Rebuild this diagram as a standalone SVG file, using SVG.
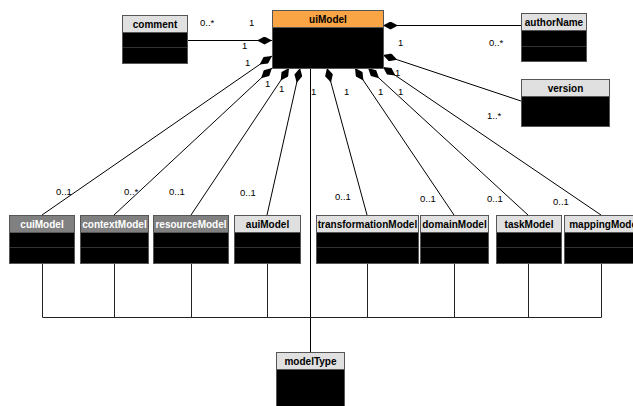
<svg xmlns="http://www.w3.org/2000/svg" width="633" height="406" viewBox="0 0 633 406">
<style>
.body{fill:#000;stroke:#555;stroke-width:1}
.hd{fill:#e0e0e0;stroke:#555;stroke-width:1}
.hdg{fill:#808080;stroke:#555;stroke-width:1}
.hdo{fill:#f9a445;stroke:#555;stroke-width:1}
.div{stroke:#333;stroke-width:1}
.t{font-family:"Liberation Sans",Arial,sans-serif;font-size:10px;font-weight:bold;fill:#000;text-anchor:middle}
.tw{fill:#fff}
.m{font-family:"Liberation Sans",Arial,sans-serif;font-size:9.5px;fill:#000}
.ln{fill:none;stroke:#000;stroke-width:1}
.lg{fill:none;stroke:#222;stroke-width:1}
</style>
<defs>
<marker id="dia" viewBox="0 0 15 8" refX="0" refY="4" markerWidth="15" markerHeight="8" markerUnits="userSpaceOnUse" orient="auto">
<path d="M0,4 L7.5,0 L15,4 L7.5,8 Z" fill="#000"/>
</marker>
</defs>
<rect width="633" height="406" fill="#fff"/>
<g id="connectors">
<path class="ln" d="M272,40.5 L187,40.5" marker-start="url(#dia)"/>
<path class="ln" d="M383,25.5 L521,25.5" marker-start="url(#dia)"/>
<path class="ln" d="M383,55 L521,101" marker-start="url(#dia)"/>
<path class="ln" d="M272,56 L42,215" marker-start="url(#dia)"/>
<path class="ln" d="M272,68 L114,215" marker-start="url(#dia)"/>
<path class="ln" d="M289,68 L191,215" marker-start="url(#dia)"/>
<path class="ln" d="M300,68 L267,215" marker-start="url(#dia)"/>
<path class="ln" d="M310.5,68 L310.5,352"/>
<path class="ln" d="M327,68 L367,215" marker-start="url(#dia)"/>
<path class="ln" d="M355,68 L454,215" marker-start="url(#dia)"/>
<path class="ln" d="M368,68 L528,215" marker-start="url(#dia)"/>
<path class="ln" d="M383,67 L601,215" marker-start="url(#dia)"/>
<path class="lg" d="M42.5,263 V317.5 M114.5,263 V317.5 M191.5,263 V317.5 M267.5,263 V317.5 M367.5,263 V317.5 M454.5,263 V317.5 M528.5,263 V317.5 M601.5,263 V317.5 M42.5,317.5 H601.5"/>
<g class="m">
<text x="200" y="26">0..*</text>
<text x="249" y="26">1</text>
<text x="242" y="49">1</text>
<text x="245" y="66">1</text>
<text x="265" y="87">1</text>
<text x="279" y="92">1</text>
<text x="311" y="95">1</text>
<text x="344" y="95">1</text>
<text x="378" y="95">1</text>
<text x="398" y="95">1</text>
<text x="395" y="76">1</text>
<text x="398" y="46">1</text>
<text x="489" y="46">0..*</text>
<text x="487" y="119">1..*</text>
<text x="56" y="195">0..1</text>
<text x="124" y="195">0..*</text>
<text x="169" y="195">0..1</text>
<text x="240" y="196">0..1</text>
<text x="335" y="200">0..1</text>
<text x="420" y="202">0..1</text>
<text x="487" y="202">0..1</text>
<text x="553" y="205">0..1</text>
</g>
</g>
<g id="uiModel">
<rect class="body" x="272.5" y="10.5" width="111" height="58"/>
<rect class="hdo" x="272.5" y="10.5" width="111" height="17"/>
<text class="t" x="328" y="23">uiModel</text>
</g>
<g id="comment">
<rect class="body" x="122.5" y="15.5" width="65" height="48"/>
<rect class="hd" x="122.5" y="15.5" width="65" height="17"/>
<line class="div" x1="123" y1="47.5" x2="187" y2="47.5"/>
<text class="t" x="155" y="27.5">comment</text>
</g>
<g id="authorName">
<rect class="body" x="521.5" y="13.5" width="65" height="48"/>
<rect class="hd" x="521.5" y="13.5" width="65" height="17"/>
<line class="div" x1="522" y1="46.5" x2="586" y2="46.5"/>
<text class="t" x="554" y="25.5">authorName</text>
</g>
<g id="version">
<rect class="body" x="521.5" y="79.5" width="88" height="47"/>
<rect class="hd" x="521.5" y="79.5" width="88" height="17"/>
<text class="t" x="565.5" y="91.5">version</text>
</g>
<g id="cuiModel">
<rect class="body" x="9.5" y="215.5" width="65" height="48"/>
<rect class="hdg" x="9.5" y="215.5" width="65" height="17"/>
<line class="div" x1="10" y1="247.5" x2="74" y2="247.5"/>
<text class="t tw" x="42" y="227.5">cuiModel</text>
</g>
<g id="contextModel">
<rect class="body" x="80.5" y="215.5" width="68" height="48"/>
<rect class="hdg" x="80.5" y="215.5" width="68" height="17"/>
<line class="div" x1="81" y1="247.5" x2="148" y2="247.5"/>
<text class="t tw" x="114.5" y="227.5">contextModel</text>
</g>
<g id="resourceModel">
<rect class="body" x="153.5" y="215.5" width="75" height="48"/>
<rect class="hdg" x="153.5" y="215.5" width="75" height="17"/>
<line class="div" x1="154" y1="247.5" x2="228" y2="247.5"/>
<text class="t tw" x="191" y="227.5">resourceModel</text>
</g>
<g id="auiModel">
<rect class="body" x="234.5" y="215.5" width="66" height="48"/>
<rect class="hd" x="234.5" y="215.5" width="66" height="17"/>
<line class="div" x1="235" y1="247.5" x2="300" y2="247.5"/>
<text class="t" x="267.5" y="227.5">auiModel</text>
</g>
<g id="transformationModel">
<rect class="body" x="316.5" y="215.5" width="102" height="48"/>
<rect class="hd" x="316.5" y="215.5" width="102" height="17"/>
<line class="div" x1="317" y1="247.5" x2="418" y2="247.5"/>
<text class="t" x="367.5" y="227.5">transformationModel</text>
</g>
<g id="domainModel">
<rect class="body" x="420.5" y="215.5" width="68" height="48"/>
<rect class="hd" x="420.5" y="215.5" width="68" height="17"/>
<line class="div" x1="421" y1="247.5" x2="488" y2="247.5"/>
<text class="t" x="454.5" y="227.5">domainModel</text>
</g>
<g id="taskModel">
<rect class="body" x="496.5" y="215.5" width="65" height="48"/>
<rect class="hd" x="496.5" y="215.5" width="65" height="17"/>
<line class="div" x1="497" y1="247.5" x2="561" y2="247.5"/>
<text class="t" x="529" y="227.5">taskModel</text>
</g>
<g id="mappingModel">
<rect class="body" x="564.5" y="215.5" width="80" height="48"/>
<rect class="hd" x="564.5" y="215.5" width="80" height="17"/>
<line class="div" x1="565" y1="247.5" x2="644" y2="247.5"/>
<text class="t" x="604.5" y="227.5">mappingModel</text>
</g>
<g id="modelType">
<rect class="body" x="276.5" y="352.5" width="68" height="60"/>
<rect class="hd" x="276.5" y="352.5" width="68" height="17"/>
<text class="t" x="310.5" y="364.5">modelType</text>
</g>
</svg>
